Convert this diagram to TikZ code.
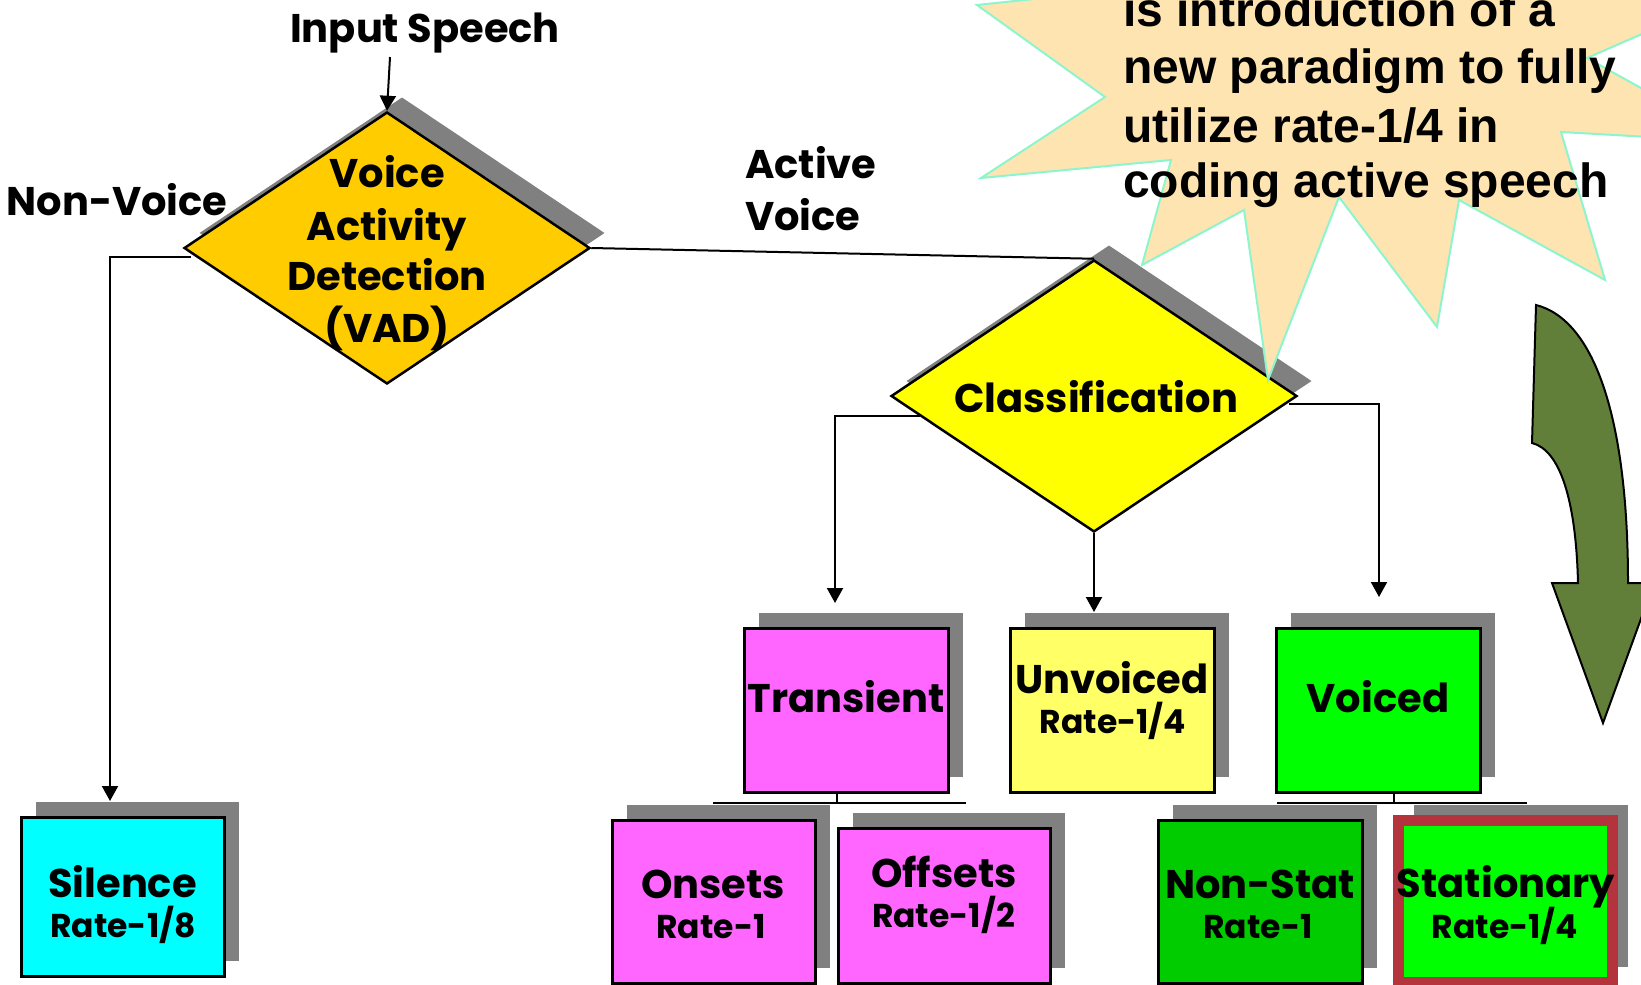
\documentclass[tikz,border=0pt]{standalone}
\usepackage{fontspec}
\usetikzlibrary{shapes.geometric,arrows.meta,shadows}
\newfontfamily\handfont{Poppins}
\newfontfamily\burstfont{Liberation Sans}

\definecolor{vadgold}{RGB}{255,204,0}
\definecolor{clsyellow}{RGB}{255,255,0}
\definecolor{pinkbox}{RGB}{255,102,255}
\definecolor{paleyellow}{RGB}{255,255,102}
\definecolor{brightgreen}{RGB}{0,255,0}
\definecolor{midgreen}{RGB}{0,204,0}
\definecolor{silcyan}{RGB}{0,255,255}
\definecolor{shadowgray}{RGB}{128,128,128}
\definecolor{framered}{RGB}{180,52,62}
\definecolor{burstfill}{RGB}{254,228,176}
\definecolor{burstline}{RGB}{140,245,205}
\definecolor{olivearrow}{RGB}{97,127,57}

\tikzset{
  shadowed/.style={drop shadow={shadow xshift=15pt,shadow yshift=15pt,opacity=1,fill=shadowgray}},
  card/.style={rectangle, draw=black, line width=3pt, inner sep=0pt, shadowed},
  decision/.style={diamond, draw=black, line width=2.5pt, inner sep=0pt,
    minimum width=406pt, minimum height=272pt, shadowed},
  lbl/.style={font={\handfont\bfseries\fontsize{40}{46}\selectfont}, inner sep=0pt, anchor=base},
  rate/.style={font={\handfont\bfseries\fontsize{33}{38}\selectfont}, inner sep=0pt, anchor=base},
  bursttext/.style={font={\burstfont\bfseries\fontsize{48}{57}\selectfont}, inner sep=0pt, anchor=base west},
  wire/.style={draw=black, line width=2pt},
  flow/.style={wire, -{Triangle[length=15pt,width=16pt]}},
}

\begin{document}
\begin{tikzpicture}[x=1pt,y=-1pt]
\useasboundingbox (0,0) rectangle (1641,985);
\clip (0,0) rectangle (1641,985);

% curved arrow at the right margin
\path[fill=olivearrow, draw=black, line width=2pt]
  (1536,305) .. controls (1595,320) and (1628,420) .. (1628,583)
  -- (1654,583) -- (1603,723) -- (1552,583) -- (1578,583)
  .. controls (1576,500) and (1560,450) .. (1532,443) -- cycle;

% decisions
\node[decision, fill=vadgold] (vad) at (387,248) {};
\node[decision, fill=clsyellow] (cls) at (1094,396) {};

% class boxes
\node[card, fill=pinkbox, minimum width=204pt, minimum height=164pt] (transient) at (846,710) {};
\node[card, fill=paleyellow, minimum width=204pt, minimum height=164pt] (unvoiced) at (1112,710) {};
\node[card, fill=brightgreen, minimum width=204pt, minimum height=164pt] (voiced) at (1378,710) {};
\node[card, fill=silcyan, minimum width=203pt, minimum height=159pt] (silence) at (122.5,896.5) {};
\node[card, fill=pinkbox, minimum width=203pt, minimum height=163pt] (onsets) at (713.5,901.5) {};
\node[card, fill=pinkbox, minimum width=212pt, minimum height=155pt] (offsets) at (944,905.5) {};
\node[card, fill=midgreen, minimum width=204pt, minimum height=163pt] (nonstat) at (1260,901.5) {};
\node[card, fill=brightgreen, draw=framered, line width=11pt, minimum width=214pt, minimum height=162pt] (stationary) at (1505.5,901) {};

% connector end points
\coordinate (inTop) at (390,57);
\coordinate (silIn) at (110,801);
\coordinate (tIn) at (835,603);
\coordinate (uIn) at (1094,612);
\coordinate (vIn) at (1379,597);
\coordinate (tJoin) at (837,803);
\coordinate (tLeft) at (713,803);
\coordinate (tRight) at (966,803);
\coordinate (vJoin) at (1394,803);
\coordinate (vLeft) at (1277,803);
\coordinate (vRight) at (1527,803);

% connectors
\draw[flow] (inTop) -- (vad.north);
\draw[flow] ([xshift=8pt,yshift=-9pt]vad.west) -| (silIn);
\draw[wire] (vad.east) -- (cls.north);
\draw[flow] ([xshift=30pt,yshift=-20pt]cls.west) -| (tIn);
\draw[flow] (cls.south) -- (uIn);
\draw[flow] ([xshift=-9pt,yshift=-8pt]cls.east) -| (vIn);
\draw[wire] (transient.south -| tJoin) -- (tJoin);
\draw[wire] (tLeft) -- (tRight);
\draw[wire] (voiced.south -| vJoin) -- (vJoin);
\draw[wire] (vLeft) -- (vRight);

% labels
\node[lbl] (inputLbl) at (425,42) {Input Speech};
\node[lbl] (nonvoiceLbl) at (117,215) {Non-Voice};
\node[lbl, anchor=base west] (activeLbl) at (745,178) {Active};
\node[lbl, anchor=base west] (activeLbl2) at (745,230) {Voice};
\node[lbl] (vad1) at (387,187) {Voice};
\node[lbl] (vad2) at (387,240) {Activity};
\node[lbl] (vad3) at (387,290) {Detection};
\node[lbl] (vad4) at (387,342) {(VAD)};
\node[lbl] (clsLbl) at (1096,412) {Classification};
\node[lbl] (transientLbl) at (846,712) {Transient};
\node[lbl] (unvoicedLbl) at (1112,693) {Unvoiced};
\node[rate] (unvoicedRate) at (1113,733) {Rate-1/4};
\node[lbl] (voicedLbl) at (1378,712) {Voiced};
\node[lbl] (silenceLbl) at (122.5,897) {Silence};
\node[rate] (silenceRate) at (123,937) {Rate-1/8};
\node[lbl] (onsetsLbl) at (713,898) {Onsets};
\node[rate] (onsetsRate) at (711,938) {Rate-1};
\node[lbl] (offsetsLbl) at (944,887) {Offsets};
\node[rate] (offsetsRate) at (943.5,927) {Rate-1/2};
\node[lbl] (nonstatLbl) at (1260,898) {Non-Stat};
\node[rate] (nonstatRate) at (1258,938) {Rate-1};
\node[lbl] (stationaryLbl) at (1506,897) {Stationary};
\node[rate] (stationaryRate) at (1505,938) {Rate-1/4};

% explosion callout
\path[fill=burstfill, draw=burstline, line width=2pt]
  (977,5) -- (1105,97) -- (981,178) -- (1171,160) -- (1142,265) -- (1244,210)
  -- (1268,380) -- (1339,197) -- (1437,327) -- (1459,200) -- (1605,280)
  -- (1561,132) -- (1738,142) -- (1587,58) -- (1720,0) -- (1600,-80)
  -- (1450,-150) -- (1300,-60) -- (1150,-150) -- (1100,-8) -- cycle;
\node[bursttext] (burst1) at (1123,26) {is introduction of a};
\node[bursttext] (burst2) at (1123,83) {new paradigm to fully};
\node[bursttext] (burst3) at (1123,142) {utilize rate-1/4 in};
\node[bursttext] (burst4) at (1123,197) {coding active speech};
\end{tikzpicture}
\end{document}
